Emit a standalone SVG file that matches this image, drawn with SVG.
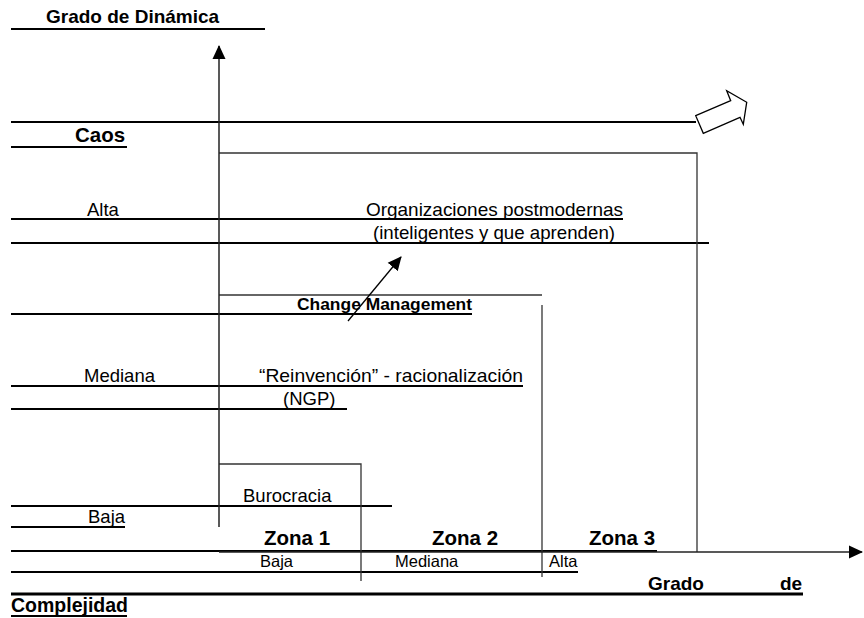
<svg xmlns="http://www.w3.org/2000/svg" width="864" height="618" viewBox="0 0 864 618">
<style>
text{font-family:"Liberation Sans",Arial,sans-serif;fill:#000}
.b{font-weight:bold}
.r18{font-size:18.5px}
.r16{font-size:16.5px}
.rule{stroke:#000;stroke-width:2;fill:none}
.thick{stroke:#000;stroke-width:3;fill:none}
.box{stroke:#333;stroke-width:1.3;fill:none}
.axis{stroke:#222;stroke-width:1.5;fill:none}
</style>
<defs>
<marker id="ah" markerWidth="10" markerHeight="10" refX="9" refY="5" orient="auto" markerUnits="userSpaceOnUse">
<path d="M0,0 L10,5 L0,10 Z" fill="#000"/>
</marker>
<marker id="ahl" markerWidth="14" markerHeight="14" refX="13" refY="7" orient="auto" markerUnits="userSpaceOnUse">
<path d="M0,0.5 L14,7 L0,13.5 Z" fill="#000"/>
</marker>
</defs>
<rect width="864" height="618" fill="#fff"/>

<g id="rules">
<line class="rule" x1="11" y1="29" x2="265" y2="29"/>
<line class="rule" x1="11" y1="122" x2="696" y2="122"/>
<line class="rule" x1="11" y1="147" x2="127" y2="147"/>
<line class="rule" x1="11" y1="219" x2="623" y2="219"/>
<line class="rule" x1="11" y1="243" x2="709" y2="243"/>
<line class="rule" x1="11" y1="314" x2="472" y2="314"/>
<line class="rule" x1="11" y1="386" x2="523" y2="386"/>
<line class="rule" x1="11" y1="409" x2="347" y2="409"/>
<line class="rule" x1="11" y1="506" x2="392" y2="506"/>
<line class="rule" x1="11" y1="527" x2="125" y2="527"/>
<line class="rule" x1="11" y1="551" x2="657" y2="551" stroke-width="2.5"/>
<line class="rule" x1="11" y1="572" x2="578" y2="572"/>
<line class="thick" x1="11" y1="594" x2="803" y2="594"/>
<line class="rule" x1="11" y1="616" x2="127" y2="616"/>
</g>

<g id="zona3-box"><polyline class="box" points="219,153 697,153 697,552"/></g>
<g id="zona2-box"><line class="box" x1="219" y1="295" x2="542" y2="295"/><line class="box" x1="542" y1="305" x2="542" y2="577"/></g>
<g id="zona1-box"><polyline class="box" points="219,464 361,464 361,581"/></g>

<g id="title-y"><text class="b" x="46" y="23" font-size="19">Grado de Dinámica</text></g>
<g id="caos"><text class="b" x="75" y="142" font-size="20.5">Caos</text></g>
<g id="alta"><text class="r18" x="87" y="216">Alta</text></g>
<g id="postmodernas">
<text class="r18" x="366" y="216" textLength="257" lengthAdjust="spacingAndGlyphs">Organizaciones postmodernas</text>
<text class="r18" x="373" y="239" textLength="242" lengthAdjust="spacingAndGlyphs">(inteligentes y que aprenden)</text>
</g>
<g id="change"><text class="b" x="297" y="310" font-size="17" textLength="175" lengthAdjust="spacingAndGlyphs">Change Management</text></g>
<g id="mediana"><text class="r18" x="84" y="382">Mediana</text></g>
<g id="reinvencion">
<text class="r18" x="259" y="382" textLength="264" lengthAdjust="spacingAndGlyphs">“Reinvención” - racionalización</text>
<text class="r18" x="283" y="405">(NGP)</text>
</g>
<g id="burocracia"><text class="r18" x="243" y="502">Burocracia</text></g>
<g id="baja"><text class="r18" x="88" y="523">Baja</text></g>
<g id="zonas">
<text class="b" x="264" y="545" font-size="20.5">Zona 1</text>
<text class="b" x="432" y="545" font-size="20.5">Zona 2</text>
<text class="b" x="589" y="545" font-size="20.5">Zona 3</text>
</g>
<g id="x-levels">
<text class="r16" x="260" y="567">Baja</text>
<text class="r16" x="395" y="567">Mediana</text>
<text class="r16" x="549" y="567">Alta</text>
</g>
<g id="title-x">
<text class="b" x="648" y="590" font-size="19">Grado</text>
<text class="b" x="780" y="590" font-size="19">de</text>
<text class="b" x="11" y="612" font-size="19.5">Complejidad</text>
</g>

<g id="connectors">
<line class="axis" x1="219" y1="527" x2="219" y2="46" marker-end="url(#ahl)"/>
<line class="axis" x1="219" y1="552" x2="862" y2="552" marker-end="url(#ahl)"/>
<line stroke="#000" stroke-width="1.3" x1="348" y1="321" x2="401" y2="257" marker-end="url(#ahl)"/>
<polygon points="695.7,115.7 730.7,100.7 726.7,90.7 746.7,102.3 743.3,124.3 740,117.3 703.3,133.3" fill="#fff" stroke="#000" stroke-width="1.3"/>
</g>
</svg>
